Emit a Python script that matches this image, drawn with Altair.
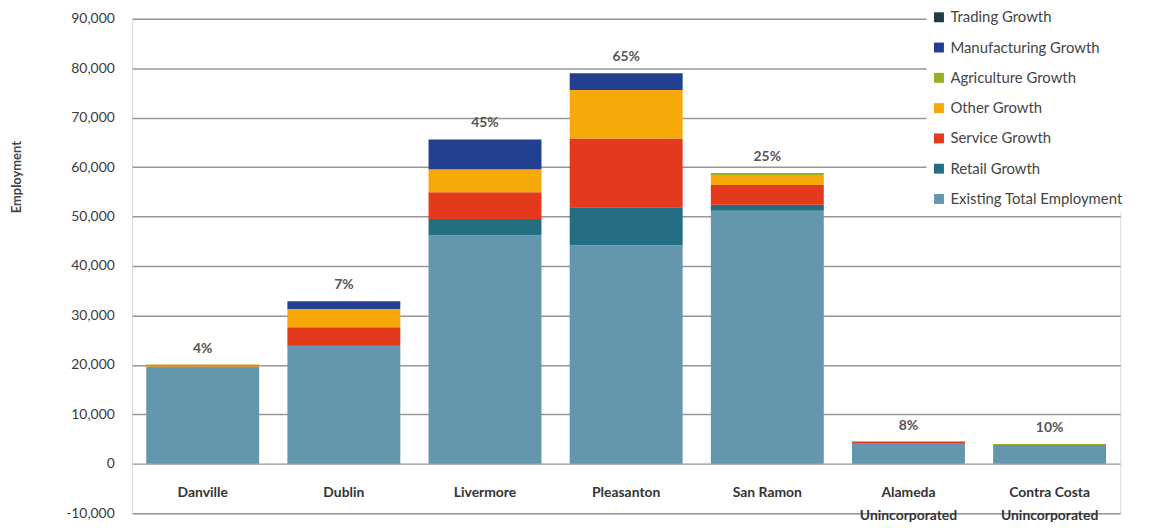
import altair as alt
import pandas as pd

categories = ["Danville", "Dublin", "Livermore", "Pleasanton", "San Ramon",
              "Alameda\nUnincorporated", "Contra Costa\nUnincorporated"]
existing = [19500, 23700, 46200, 44200, 51200, 4200, 3800]
retail = [100, 300, 3300, 7700, 1200, 0, 0]
service = [100, 3600, 5400, 13900, 4000, 300, 0]
other = [100, 3700, 4500, 9800, 2000, 0, 0]
agriculture = [300, 0, 200, 0, 400, 0, 200]
manufacturing = [0, 1600, 6000, 3400, 0, 0, 0]
trading = [0, 0, 0, 0, 0, 0, 0]
pct_labels = ["4%", "7%", "45%", "65%", "25%", "8%", "10%"]

series_names = ["Existing Total Employment", "Retail Growth", "Service Growth",
                "Other Growth", "Agriculture Growth", "Manufacturing Growth",
                "Trading Growth"]
series_values = [existing, retail, service, other, agriculture, manufacturing, trading]
series_colors = ["#6496ae", "#236e82", "#e3391d", "#f7a90a", "#9aae25", "#22408f", "#1b3d45"]

rows = []
for si, (name, vals) in enumerate(zip(series_names, series_values)):
    for c, v in zip(categories, vals):
        rows.append({"city": c, "series": name, "value": v, "order": si})
df = pd.DataFrame(rows)

totals = pd.DataFrame({
    "city": categories,
    "total": [sum(v[i] for v in series_values) for i in range(len(categories))],
    "label": pct_labels,
})

legend_domain = list(reversed(series_names))
legend_range = list(reversed(series_colors))

FONT = "Lato"

x_enc = alt.X("city:N", sort=categories,
              scale=alt.Scale(paddingInner=0.2, paddingOuter=0.1),
              axis=alt.Axis(title=None, labelAngle=0, offset=-50, domain=False,
                            ticks=False, tickSize=0, labelPadding=22,
                            labelFont=FONT, labelFontSize=14, labelFontWeight="bold",
                            labelColor="#333333", labelLineHeight=23,
                            labelExpr="split(datum.label, '\\n')"))

y_scale = alt.Scale(domain=[-10000, 90000], nice=False)

bars = alt.Chart(df).mark_bar().encode(
    x=x_enc,
    y=alt.Y("value:Q", stack="zero", scale=y_scale,
            axis=alt.Axis(title="Employment", values=list(range(-10000, 90001, 10000)),
                          domain=False, ticks=False, tickSize=0, labelPadding=18,
                          labelFont=FONT, labelFontSize=14, labelColor="#3a3a3a",
                          labelExpr="replace(format(datum.value, ','), '\u2212', '-')",
                          grid=True, gridColor="#969696", gridWidth=1.5,
                          titleFont=FONT, titleFontSize=13, titleFontWeight="bold",
                          titleColor="#444444", titleAngle=270, titleBaseline="middle",
                          titleAlign="center", titleX=-116, titleY=159)),
    color=alt.Color("series:N",
                    scale=alt.Scale(domain=legend_domain, range=legend_range),
                    legend=alt.Legend(title=None, orient="none", legendX=800, legendY=-14,
                                      symbolType="square", symbolSize=100,
                                      symbolStrokeWidth=0, labelLimit=0,
                                      labelFont=FONT, labelFontSize=15,
                                      labelColor="#444444", labelOffset=4,
                                      rowPadding=14.5, fillColor="white", padding=5)),
    order=alt.Order("order:Q", sort="ascending"),
)

labels = alt.Chart(totals).mark_text(
    dy=-16, font=FONT, fontSize=14, fontWeight="bold", color="#555555", baseline="middle"
).encode(
    x=alt.X("city:N", sort=categories),
    y=alt.Y("total:Q", scale=y_scale),
    text="label:N",
)

chart = alt.layer(bars, labels).properties(
    width=995, height=498,
    autosize=alt.AutoSizeParams(type="none"),
    padding={"left": 125, "top": 9, "right": 28, "bottom": 13},
).configure_view(stroke=None).configure(background="white")

chart.save("out.html", embed_options={"renderer": "svg", "actions": False})
